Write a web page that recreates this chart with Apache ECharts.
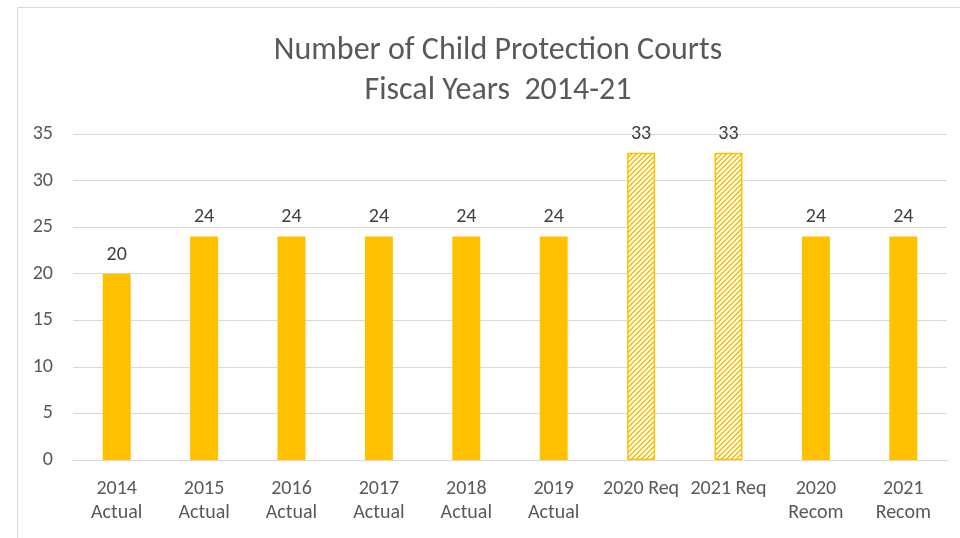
<!DOCTYPE html>
<html><head><meta charset="utf-8">
<script src="https://cdn.jsdelivr.net/npm/echarts@6/dist/echarts.min.js"></script>
<style>html,body{margin:0;padding:0;background:#fff}#c{width:960px;height:538px}</style>
</head><body><div id="c"></div>
<script>
const categories = ["2014\nActual","2015\nActual","2016\nActual","2017\nActual","2018\nActual","2019\nActual","2020 Req","2021 Req","2020\nRecom","2021\nRecom"];
const values = [20,24,24,24,24,24,33,33,24,24];
const hatchedCategories = ["2020 Req","2021 Req"];
const yTicks = [0,5,10,15,20,25,30,35];

const gold = '#FFC000';
const pc = document.createElement('canvas');
pc.width = 5; pc.height = 5;
const ctx = pc.getContext('2d');
ctx.fillStyle = '#fff'; ctx.fillRect(0,0,5,5);
ctx.fillStyle = gold;
for (let i = 0; i < 5; i++) { ctx.fillRect(i, 4 - i, 1, 1); ctx.fillRect((i+1)%5, 4 - i, 1, 1); }

const font = 'Carlito, "Liberation Sans Narrow", "Liberation Sans", sans-serif';
const chart = echarts.init(document.getElementById('c'));
chart.setOption({
  animation: false,
  backgroundColor: '#fff',
  graphic: [{type:'rect', shape:{x:17.5,y:7.5,width:1000,height:600}, style:{fill:'none', stroke:'#d9d9d9', lineWidth:1}, silent:true}],
  title: {
    text: 'Number of Child Protection Courts\nFiscal Years  2014-21',
    left: 493, top: 26, textAlign: 'center',
    textStyle: {fontFamily: font, fontSize: 32, fontWeight: 'normal', color: '#595959', lineHeight: 40}
  },
  grid: {left: 73, right: 13, top: 134, bottom: 78},
  xAxis: {
    type: 'category', data: categories,
    axisLine: {lineStyle: {color: '#d9d9d9'}}, axisTick: {show: false},
    axisLabel: {fontFamily: font, fontSize: 20, color: '#595959', lineHeight: 24, margin: 17, interval: 0}
  },
  yAxis: {
    type: 'value', min: yTicks[0], max: yTicks[yTicks.length-1], interval: 5,
    axisLine: {show: false}, axisTick: {show: false},
    splitLine: {lineStyle: {color: '#d9d9d9'}},
    axisLabel: {fontFamily: font, fontSize: 20, color: '#595959', margin: 20}
  },
  series: [{
    type: 'bar', barWidth: '32%',
    data: values.map((v, i) => hatchedCategories.includes(categories[i])
      ? {value: v, itemStyle: {color: {image: pc, repeat: 'repeat'}, borderColor: gold, borderWidth: 1.5}}
      : {value: v, itemStyle: {color: gold}}),
    label: {show: true, position: 'top', distance: 9, fontFamily: font, fontSize: 20, color: '#404040'}
  }]
});
</script></body></html>
